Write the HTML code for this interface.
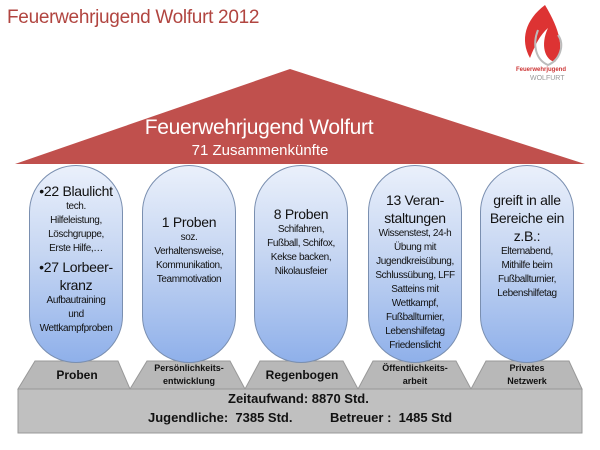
<!DOCTYPE html>
<html><head><meta charset="utf-8"><style>
body{margin:0;width:600px;height:450px;background:#fff;position:relative;overflow:hidden;font-family:"Liberation Sans",sans-serif}
.t{position:absolute;text-align:center;white-space:nowrap;color:#111}
.p{position:absolute;top:165px;height:198px;width:94px;border-radius:47px;border:1px solid #7a8fb0;background:linear-gradient(#eaf0fb,#c6d6f2 45%,#8fb0ea);box-sizing:border-box}
.pt{position:absolute;width:120px;text-align:center;color:#111;font-size:10px;line-height:14px;letter-spacing:-0.4px}
.b{display:block;font-size:14px;line-height:18px;letter-spacing:-0.3px}
</style></head><body>
<div class="t" style="left:7px;top:7px;font-size:19px;color:#b14540;letter-spacing:-0.3px">Feuerwehrjugend Wolfurt 2012</div>
<svg style="position:absolute;left:0;top:0" width="600" height="450">
<path d="M545 5 C525 20 520 40 530 58 C535 45 540 35 548 28 C540 45 545 60 555 62 C565 50 560 30 545 5Z" fill="#d33"/>
<path d="M538 30 C532 45 536 60 548 65 C560 60 565 45 558 35" fill="none" stroke="#bbb" stroke-width="2"/>
<text x="516" y="71" font-size="6" fill="#c33" font-family="Liberation Sans" font-weight="bold">Feuerwehrjugend</text>
<text x="530" y="80" font-size="7" fill="#999" font-family="Liberation Sans">WOLFURT</text>
<polygon points="15,164 290,69 585,164" fill="#c0504d"/>
<polygon points="35,361 118,361 130,389 18,389" fill="#b8b8b8" stroke="#999"/>
<polygon points="147,361 230,361 245,389 130,389" fill="#b8b8b8" stroke="#999"/>
<polygon points="260,361 343,361 358,389 245,389" fill="#b8b8b8" stroke="#999"/>
<polygon points="373,361 456,361 471,389 358,389" fill="#b8b8b8" stroke="#999"/>
<polygon points="486,361 569,361 582,389 471,389" fill="#b8b8b8" stroke="#999"/>
<rect x="18" y="389" width="564" height="44" fill="#c0c0c0" stroke="#999"/>
</svg>
<div class="t" style="left:0;width:518px;top:116px;font-size:21px;color:#fff;letter-spacing:-0.3px">Feuerwehrjugend Wolfurt</div>
<div class="t" style="left:0;width:520px;top:142px;font-size:15px;color:#fff">71 Zusammenkünfte</div>
<div class="p" style="left:29px"></div><div class="p" style="left:142px"></div><div class="p" style="left:254px"></div><div class="p" style="left:368px"></div><div class="p" style="left:480px"></div>
<div class="pt" style="left:16px;top:182px"><span class="b">•22 Blaulicht</span>tech.<br>Hilfeleistung,<br>Löschgruppe,<br>Erste Hilfe,…<span class="b" style="margin-top:2px">•27 Lorbeer-<br>kranz</span>Aufbautraining<br>und<br>Wettkampfproben</div>
<div class="pt" style="left:129px;top:213px"><span class="b">1 Proben</span>soz.<br>Verhaltensweise,<br>Kommunikation,<br>Teammotivation</div>
<div class="pt" style="left:241px;top:205px"><span class="b">8 Proben</span>Schifahren,<br>Fußball, Schifox,<br>Kekse backen,<br>Nikolausfeier</div>
<div class="pt" style="left:355px;top:191px"><span class="b">13 Veran-<br>staltungen</span>Wissenstest, 24-h<br>Übung mit<br>Jugendkreisübung,<br>Schlussübung, LFF<br>Satteins mit<br>Wettkampf,<br>Fußballturnier,<br>Lebenshilfetag<br>Friedenslicht</div>
<div class="pt" style="left:467px;top:191px"><span class="b">greift in alle<br>Bereiche ein<br>z.B.:</span>Elternabend,<br>Mithilfe beim<br>Fußballturnier,<br>Lebenshilfetag</div>
<div class="t" style="left:34px;width:86px;top:368px;font-size:12px;font-weight:bold">Proben</div>
<div class="t" style="left:144px;width:90px;top:362px;font-size:9px;font-weight:bold;line-height:1.45">Persönlichkeits-<br>entwicklung</div>
<div class="t" style="left:258px;width:88px;top:368px;font-size:12px;font-weight:bold">Regenbogen</div>
<div class="t" style="left:370px;width:90px;top:362px;font-size:9px;font-weight:bold;line-height:1.45">Öffentlichkeits-<br>arbeit</div>
<div class="t" style="left:483px;width:88px;top:362px;font-size:9px;font-weight:bold;line-height:1.45">Privates<br>Netzwerk</div>
<div class="t" style="left:228px;top:391px;font-size:13px;font-weight:bold">Zeitaufwand: 8870 Std.</div>
<div class="t" style="left:148px;top:410px;font-size:13px;font-weight:bold">Jugendliche:&nbsp; 7385 Std.</div>
<div class="t" style="left:330px;top:410px;font-size:13px;font-weight:bold">Betreuer :&nbsp; 1485 Std</div>
</body></html>
